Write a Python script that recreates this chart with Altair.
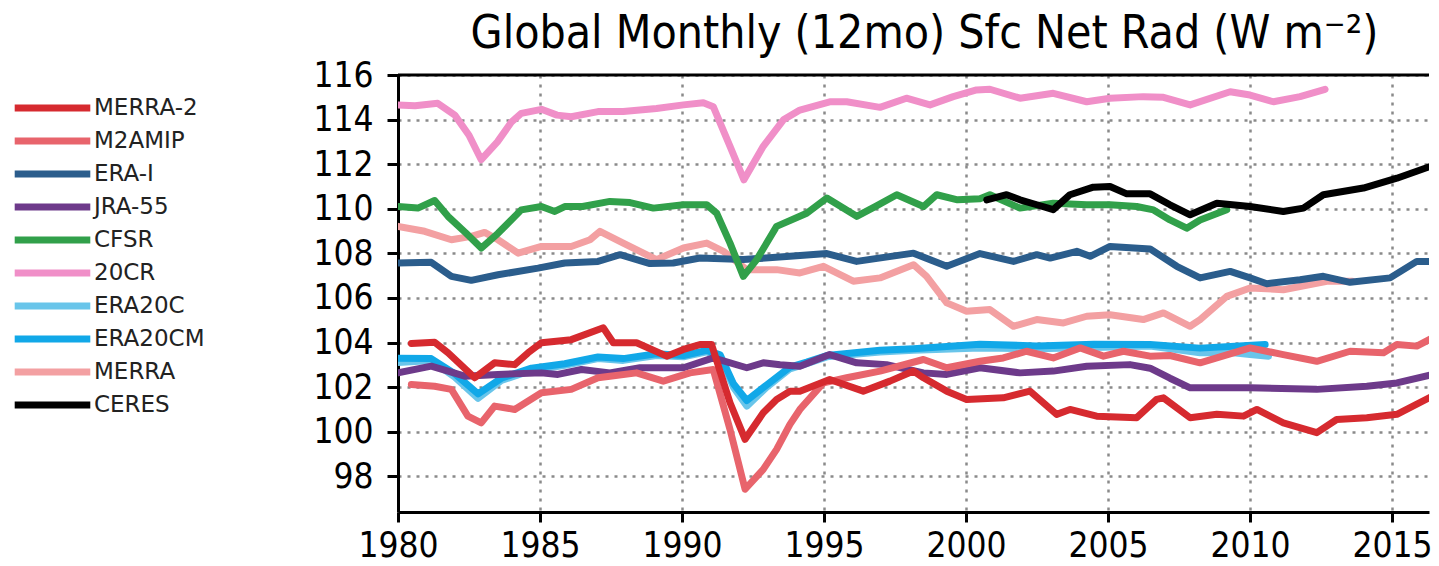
import altair as alt
import pandas as pd

FONT = "DejaVu Sans Condensed, DejaVu Sans"

series_names = ["MERRA-2", "M2AMIP", "ERA-I", "JRA-55", "CFSR", "20CR",
                "ERA20C", "ERA20CM", "MERRA", "CERES"]
series_colors = ["#d62a2f", "#e8646c", "#2b5d8c", "#6d3a8a", "#31a04a", "#f08fc8",
                 "#69c5ea", "#11a8e8", "#f3a0a2", "#000000"]
series_widths = {"MERRA-2": 4, "M2AMIP": 4, "ERA-I": 4, "JRA-55": 4, "CFSR": 4, "20CR": 4,
                 "ERA20C": 6.5, "ERA20CM": 4, "MERRA": 4, "CERES": 4.5}
draw_order = ["20CR", "MERRA", "ERA20C", "ERA20CM", "JRA-55", "ERA-I",
              "CFSR", "M2AMIP", "MERRA-2", "CERES"]

x_ticks = [1980, 1985, 1990, 1995, 2000, 2005, 2010, 2015]
y_ticks = [98, 100, 102, 104, 106, 108, 110, 112, 114, 116]

r20cr_years = [1980.0, 1980.6, 1981.4, 1982.0, 1982.5, 1982.93, 1983.5, 1984.0, 1984.34, 1985.05,
               1985.6, 1986.1, 1987.04, 1987.93, 1989.1, 1990.05, 1990.75, 1991.1, 1991.69, 1992.18,
               1992.86, 1993.57, 1994.15, 1995.2, 1995.8, 1996.97, 1997.9, 1998.73, 1999.55, 2000.37,
               2000.84, 2001.9, 2003.07, 2004.25, 2005.07, 2006.24, 2006.95, 2007.89, 2009.3, 2010.0,
               2010.82, 2011.76, 2012.64]
r20cr_values = [114.66, 114.62, 114.73, 114.2, 113.3, 112.2, 113.0, 113.9, 114.28, 114.46,
                114.2, 114.13, 114.36, 114.36, 114.5, 114.66, 114.76, 114.58, 112.8, 111.3,
                112.8, 113.99, 114.43, 114.8, 114.8, 114.55, 114.96, 114.66, 115.03, 115.33,
                115.36, 114.96, 115.18, 114.8, 114.96, 115.03, 115.0, 114.66, 115.25, 115.1,
                114.8, 115.03, 115.36]

cfsr_years = [1980.0, 1980.7, 1981.29, 1981.76, 1982.4, 1982.93, 1983.52, 1984.34, 1985.05, 1985.52,
              1985.87, 1986.5, 1987.46, 1988.17, 1988.99, 1990.05, 1990.87, 1991.22, 1991.69, 1992.16,
              1992.63, 1993.33, 1994.39, 1995.1, 1996.15, 1996.8, 1997.56, 1998.5, 1998.97, 1999.7,
              2000.49, 2000.84, 2001.9, 2003.07, 2004.25, 2005.07, 2006.01, 2006.6, 2007.18, 2007.77,
              2008.24, 2009.18]
cfsr_values = [110.1, 110.03, 110.37, 109.66, 108.9, 108.24, 108.9, 109.95, 110.1, 109.88,
               110.1, 110.1, 110.33, 110.28, 110.03, 110.18, 110.18, 109.8, 108.46, 106.97,
               107.72, 109.21, 109.8, 110.48, 109.66, 110.1, 110.63, 110.1, 110.63, 110.4,
               110.45, 110.63, 110.03, 110.25, 110.18, 110.18, 110.1, 109.95, 109.5, 109.13,
               109.5, 109.96]

ceres_years = [2000.73, 2001.43, 2001.9, 2002.49, 2003.07, 2003.66, 2004.48, 2005.07, 2005.66, 2006.48,
               2007.18, 2007.89, 2008.83, 2010.0, 2011.17, 2011.88, 2012.58, 2013.99, 2015.17, 2016.66]
ceres_values = [110.4, 110.63, 110.4, 110.18, 109.96, 110.63, 110.97, 111.0, 110.67, 110.67,
                110.18, 109.73, 110.25, 110.1, 109.88, 110.03, 110.63, 110.93, 111.37, 112.04]

erai_years = [1980.0, 1981.17, 1981.88, 1982.58, 1983.52, 1984.93, 1985.87, 1987.04, 1987.82, 1988.87,
              1989.69, 1990.63, 1992.16, 1993.8, 1995.1, 1996.15, 1998.15, 1999.32, 2000.49, 2001.67,
              2002.49, 2002.96, 2003.9, 2004.37, 2005.07, 2006.48, 2007.42, 2008.24, 2009.3, 2010.0,
              2010.59, 2011.76, 2012.58, 2013.52, 2014.93, 2015.87, 2016.66]
erai_values = [107.57, 107.6, 106.97, 106.79, 107.04, 107.34, 107.57, 107.64, 107.94, 107.54,
               107.57, 107.79, 107.72, 107.87, 107.99, 107.64, 108.01, 107.42, 107.99, 107.64,
               107.94, 107.79, 108.09, 107.87, 108.31, 108.2, 107.42, 106.9, 107.19, 106.9,
               106.64, 106.82, 106.97, 106.7, 106.9, 107.64, 107.64]

merra_years = [1980.0, 1980.94, 1981.88, 1982.58, 1983.05, 1983.52, 1984.23, 1985.05, 1986.1, 1986.76,
               1987.11, 1987.93, 1989.1, 1990.05, 1990.87, 1991.46, 1992.28, 1993.33, 1994.15, 1994.98,
               1996.03, 1996.97, 1998.15, 1998.61, 1999.32, 2000.02, 2000.84, 2001.67, 2002.49, 2003.43,
               2004.25, 2005.07, 2006.24, 2006.95, 2007.89, 2008.24, 2009.18, 2010.0, 2011.17, 2012.7,
               2013.6]
merra_values = [109.21, 108.99, 108.61, 108.76, 108.94, 108.61, 108.01, 108.31, 108.31, 108.61,
                108.99, 108.46, 107.72, 108.24, 108.46, 108.09, 107.27, 107.27, 107.12, 107.42,
                106.75, 106.9, 107.49, 106.97, 105.78, 105.4, 105.48, 104.73, 105.03, 104.88,
                105.18, 105.25, 105.03, 105.33, 104.73, 105.03, 106.07, 106.45, 106.37, 106.75,
                106.75]

merra2_years = [1980.47, 1981.29, 1981.76, 1982.7, 1983.4, 1984.11, 1984.58, 1985.05, 1986.1, 1987.23,
                1987.58, 1988.4, 1989.46, 1990.05, 1990.63, 1991.04, 1991.69, 1992.22, 1992.86, 1993.33,
                1993.8, 1994.15, 1995.2, 1996.38, 1997.32, 1998.15, 1998.5, 1999.32, 2000.02, 2001.31,
                2002.25, 2003.19, 2003.66, 2004.6, 2006.01, 2006.71, 2006.95, 2007.89, 2008.83, 2009.77,
                2010.24, 2011.17, 2012.35, 2013.05, 2014.11, 2015.17, 2016.66]
merra2_values = [103.96, 104.01, 103.54, 102.42, 103.09, 103.01, 103.54, 103.99, 104.13, 104.66,
                 103.99, 103.99, 103.39, 103.69, 103.91, 103.91, 101.3, 99.66, 100.85, 101.45,
                 101.82, 101.82, 102.34, 101.82, 102.27, 102.72, 102.42, 101.82, 101.45, 101.52,
                 101.82, 100.78, 101.0, 100.7, 100.63, 101.45, 101.52, 100.63, 100.78, 100.7,
                 101.0, 100.4, 99.96, 100.55, 100.63, 100.78, 101.75]

m2amip_years = [1980.47, 1981.29, 1981.88, 1982.46, 1982.93, 1983.4, 1984.11, 1985.05, 1986.1, 1987.04,
                1987.46, 1988.4, 1989.34, 1990.28, 1991.1, 1991.69, 1992.22, 1992.86, 1993.33, 1993.8,
                1994.15, 1994.98, 1995.8, 1996.97, 1998.5, 1999.32, 2000.49, 2001.31, 2002.13, 2003.07,
                2004.02, 2004.84, 2005.54, 2006.48, 2007.18, 2008.24, 2010.0, 2011.17, 2012.35, 2013.52,
                2014.7, 2015.17, 2015.87, 2016.66]
m2amip_values = [102.12, 102.04, 101.9, 100.7, 100.4, 101.15, 101.0, 101.75, 101.9, 102.42,
                 102.49, 102.64, 102.27, 102.64, 102.79, 100.1, 97.42, 98.31, 99.21, 100.33,
                 101.0, 102.19, 102.42, 102.72, 103.24, 102.87, 103.16, 103.31, 103.61, 103.31,
                 103.76, 103.39, 103.61, 103.39, 103.42, 103.09, 103.76, 103.46, 103.16, 103.61,
                 103.54, 103.91, 103.84, 104.36]

jra55_years = [1980.0, 1981.17, 1982.35, 1983.52, 1985.05, 1985.63, 1986.46, 1987.46, 1988.52, 1990.05,
               1991.1, 1992.28, 1992.86, 1993.45, 1994.15, 1995.2, 1996.15, 1997.2, 1998.5, 1999.32,
               2000.49, 2001.9, 2003.07, 2004.25, 2005.77, 2006.48, 2007.18, 2007.89, 2010.0, 2012.35,
               2014.11, 2015.17, 2016.66]
jra55_values = [102.64, 102.94, 102.49, 102.57, 102.64, 102.57, 102.79, 102.64, 102.87, 102.87,
                103.31, 102.87, 103.09, 103.0, 102.94, 103.46, 103.09, 103.01, 102.64, 102.57,
                102.87, 102.64, 102.72, 102.94, 103.01, 102.85, 102.4, 101.97, 101.97, 101.9,
                102.04, 102.19, 102.64]

era20cm_years = [1980.0, 1981.17, 1982.0, 1982.82, 1983.64, 1984.7, 1985.87, 1987.04, 1987.93, 1989.1,
                 1990.05, 1990.87, 1991.34, 1991.81, 1992.28, 1992.98, 1993.8, 1994.39, 1995.1, 1996.97,
                 1998.15, 2000.49, 2002.5, 2004.5, 2006.48, 2008.24, 2010.53]
era20cm_values = [103.3, 103.28, 102.6, 101.7, 102.4, 102.85, 103.05, 103.35, 103.28, 103.5,
                  103.42, 103.65, 103.45, 102.15, 101.4, 102.1, 102.9, 103.12, 103.42, 103.65,
                  103.72, 103.92, 103.85, 103.92, 103.91, 103.75, 103.91]

era20c_years = [1980.0, 1981.17, 1982.0, 1982.82, 1983.64, 1984.7, 1985.87, 1987.04, 1987.93, 1989.1,
                1990.05, 1990.87, 1991.34, 1991.81, 1992.28, 1992.98, 1993.8, 1994.39, 1995.1, 1996.97,
                1998.15, 2000.49, 2002.5, 2004.5, 2006.48, 2008.24, 2009.41, 2010.0, 2010.65]
era20c_values = [103.1, 103.2, 102.45, 101.5, 102.3, 102.75, 102.98, 103.28, 103.2, 103.42,
                 103.36, 103.58, 103.38, 102.0, 101.15, 102.0, 102.82, 103.05, 103.36, 103.58,
                 103.66, 103.76, 103.72, 103.78, 103.84, 103.54, 103.54, 103.46, 103.39]

series_data = {
    "MERRA-2": (merra2_years, merra2_values),
    "M2AMIP": (m2amip_years, m2amip_values),
    "ERA-I": (erai_years, erai_values),
    "JRA-55": (jra55_years, jra55_values),
    "CFSR": (cfsr_years, cfsr_values),
    "20CR": (r20cr_years, r20cr_values),
    "ERA20C": (era20c_years, era20c_values),
    "ERA20CM": (era20cm_years, era20cm_values),
    "MERRA": (merra_years, merra_values),
    "CERES": (ceres_years, ceres_values),
}

rows = []
for name in draw_order:
    ys, vs = series_data[name]
    for i, (yr, v) in enumerate(zip(ys, vs)):
        rows.append({"series": name, "year": yr, "value": v, "idx": i,
                     "lw": series_widths[name]})
df = pd.DataFrame(rows)

x_scale = alt.Scale(domain=[1980, 2016.3], nice=False, zero=False)
y_scale = alt.Scale(domain=[96.4, 116], nice=False, zero=False)

lines = alt.Chart(df).mark_line(clip=True, strokeCap="round", strokeJoin="round",
                                strokeWidth=7).encode(
    x=alt.X("year:Q", scale=x_scale,
            axis=alt.Axis(values=x_ticks, format="d", title=None, tickSize=10, labelPadding=6,
                          labelFlush=False)),
    y=alt.Y("value:Q", scale=y_scale,
            axis=alt.Axis(values=y_ticks, format="d", title=None, tickSize=11, labelPadding=14)),
    color=alt.Color("series:N",
                    scale=alt.Scale(domain=series_names, range=series_colors),
                    legend=alt.Legend(
                        orient="none", legendX=-387, legendY=22, direction="vertical",
                        title=None, symbolType="stroke", symbolSize=5715,
                        symbolStrokeWidth=7, clipHeight=22, rowPadding=10,
                        labelFont="DejaVu Sans", labelFontSize=23, labelColor="#222222",
                        labelOffset=0, padding=0, labelLimit=300)),
    strokeWidth=alt.StrokeWidth("lw:Q", scale=None),
    order=alt.Order("idx:Q"),
)

top_frame = alt.Chart(pd.DataFrame({"k": [0]})).mark_rule(color="black", strokeWidth=3).encode(
    y=alt.datum(116)
)

chart = alt.layer(lines, top_frame).properties(
    width=1031, height=437,
    padding={"left": 390, "top": 67, "right": 2, "bottom": 54},
    autosize=alt.AutoSizeParams(type="none"),
    background="white",
    title=alt.TitleParams("Global Monthly (12mo) Sfc Net Rad (W m⁻²)", font=FONT, fontSize=46,
                          fontWeight="normal", color="black", frame="group", offset=0,
                          anchor="middle", dx=11),
).configure_view(stroke=None).configure_axis(
    labelFont=FONT, labelFontSize=35, labelColor="black",
    domainColor="black", domainWidth=3, tickColor="black", tickWidth=3,
    grid=True, gridColor="#8a8a8a", gridDash=[3, 6], gridWidth=2.5, gridOpacity=1,
)

chart.save("out.html", embed_options={"renderer": "svg", "actions": False})
